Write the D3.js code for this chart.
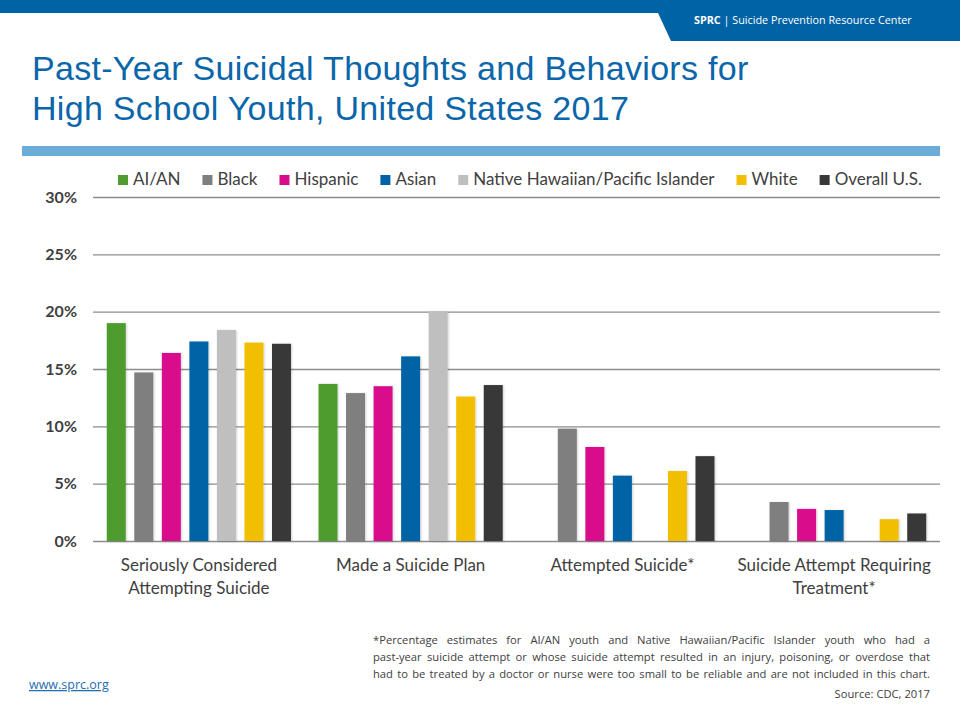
<!DOCTYPE html>
<html>
<head>
<meta charset="utf-8">
<script src="https://cdn.jsdelivr.net/npm/d3@7"></script>
<style>
  body { margin: 0; background: #fff; }
  svg { display: block; }
</style>
</head>
<body>
<svg id="chart" width="960" height="720"></svg>
<script>
// chart data
var categories = ["Seriously Considered Attempting Suicide", "Made a Suicide Plan", "Attempted Suicide*", "Suicide Attempt Requiring Treatment*"];
var categoryLines = [["Seriously Considered", "Attempting Suicide"], ["Made a Suicide Plan"], ["Attempted Suicide*"], ["Suicide Attempt Requiring", "Treatment*"]];
var seriesNames = ["AI/AN", "Black", "Hispanic", "Asian", "Native Hawaiian/Pacific Islander", "White", "Overall U.S."];
var aian = [19.0, 13.7, null, null];
var black = [14.7, 12.9, 9.8, 3.4];
var hispanic = [16.4, 13.5, 8.2, 2.8];
var asian = [17.4, 16.1, 5.7, 2.7];
var nhpi = [18.4, 20.0, null, null];
var white = [17.3, 12.6, 6.1, 1.9];
var overall = [17.2, 13.6, 7.4, 2.4];
var yTicks = [0, 5, 10, 15, 20, 25, 30];

var seriesValues = [aian, black, hispanic, asian, nhpi, white, overall];
var seriesColors = ["#4f9c2f", "#7f7f7f", "#d90c8c", "#0063a6", "#bfbfbf", "#f2be00", "#383838"];

var svg = d3.select("#chart");
var blue = "#0063a6",
    textGray = "#404040";

// header band with slanted tab on the right
svg.append("rect")
    .attr("x", 0).attr("y", 0)
    .attr("width", 960).attr("height", 13)
    .attr("fill", blue);
svg.append("path")
    .attr("d", "M652,0 L960,0 L960,41 L671,41 Z")
    .attr("fill", blue);
var header = svg.append("text")
    .attr("x", 694).attr("y", 24)
    .attr("fill", "#fff")
    .attr("font-family", "'Open Sans', sans-serif")
    .attr("font-size", "10.8px");
header.append("tspan").attr("font-weight", "bold").text("SPRC");
header.append("tspan").text("  |  Suicide Prevention Resource Center");

// title
var title = svg.append("text")
    .attr("font-family", "'Liberation Sans', Arial, sans-serif")
    .attr("font-size", "34px")
    .attr("letter-spacing", "0.3px")
    .attr("fill", "#0a66aa");
title.append("tspan").attr("x", 32).attr("y", 79.5).text("Past-Year Suicidal Thoughts and Behaviors for");
title.append("tspan").attr("x", 32).attr("y", 120).text("High School Youth, United States 2017");

svg.append("rect")
    .attr("x", 22).attr("y", 146)
    .attr("width", 918).attr("height", 10)
    .attr("fill", "#6babd7");

// plot area
var plotLeft = 93, plotRight = 940, plotTop = 197, plotBottom = 541;

var x0 = d3.scaleBand()
    .domain(categories)
    .range([plotLeft, plotRight])
    .paddingInner(0)
    .paddingOuter(0);

var x1 = d3.scaleBand()
    .domain(seriesNames)
    .range([0, x0.bandwidth()])
    .paddingInner(0.31)
    .paddingOuter(0.5);

var y = d3.scaleLinear()
    .domain([0, 30])
    .range([plotBottom, plotTop]);

// gridlines + y labels
var yAxis = svg.append("g")
    .attr("transform", "translate(" + plotLeft + ",0)")
    .call(d3.axisLeft(y)
        .tickValues(yTicks)
        .tickFormat(function (d) { return d + "%"; })
        .tickSize(-(plotRight - plotLeft))
        .tickPadding(16));
yAxis.select(".domain").remove();
yAxis.selectAll("line")
    .attr("stroke", "#8c8c8c")
    .attr("stroke-width", 1.3);
yAxis.selectAll("text")
    .attr("fill", textGray)
    .attr("font-family", "Lato, 'Open Sans', sans-serif")
    .attr("font-weight", "bold")
    .attr("font-size", "16px");

// soft shadow under the bars
var defs = svg.append("defs");
var shadow = defs.append("filter").attr("id", "barShadow")
    .attr("x", "-20%").attr("y", "-5%").attr("width", "150%").attr("height", "115%");
shadow.append("feDropShadow")
    .attr("dx", 1).attr("dy", 0.5)
    .attr("stdDeviation", 1)
    .attr("flood-color", "#000")
    .attr("flood-opacity", 0.18);

// bars, one group per category
var barData = categories.map(function (c, ci) {
    return {
        category: c,
        values: seriesNames.map(function (s, si) {
            return { series: s, value: seriesValues[si][ci], color: seriesColors[si] };
        }).filter(function (d) { return d.value !== null; })
    };
});

var groups = svg.append("g").attr("class", "bars")
    .selectAll("g")
    .data(barData)
    .enter().append("g")
    .attr("transform", function (d) { return "translate(" + x0(d.category) + ",0)"; });

groups.selectAll("rect")
    .data(function (d) { return d.values; })
    .enter().append("rect")
    .attr("x", function (d) { return x1(d.series); })
    .attr("y", function (d) { return y(d.value); })
    .attr("width", x1.bandwidth())
    .attr("height", function (d) { return y(0) - y(d.value); })
    .attr("fill", function (d) { return d.color; })
    .attr("filter", "url(#barShadow)");

// category labels
var xAxis = svg.append("g")
    .attr("transform", "translate(0," + plotBottom + ")")
    .call(d3.axisBottom(x0).tickSize(0).tickFormat(""));
xAxis.select(".domain").remove();
xAxis.selectAll(".tick").each(function (d) {
    var lines = categoryLines[categories.indexOf(d)];
    var t = d3.select(this).append("text")
        .attr("fill", textGray)
        .attr("text-anchor", "middle")
        .attr("font-family", "Lato, 'Open Sans', sans-serif")
        .attr("font-size", "17px");
    lines.forEach(function (line, i) {
        t.append("tspan").attr("x", 0).attr("y", 30 + i * 23).text(line);
    });
});

// legend, spread across the same span as the slide
var legend = svg.append("g").attr("class", "legend");
var legendItems = legend.selectAll("g")
    .data(seriesNames)
    .enter().append("g");
legendItems.append("rect")
    .attr("width", 10).attr("height", 10)
    .attr("y", -10)
    .attr("fill", function (d, i) { return seriesColors[i]; });
legendItems.append("text")
    .attr("x", 15)
    .attr("fill", textGray)
    .attr("font-family", "Lato, 'Open Sans', sans-serif")
    .attr("font-size", "17px")
    .text(function (d) { return d; });
var widths = [];
legendItems.each(function () { widths.push(15 + d3.select(this).select("text").node().getComputedTextLength()); });
var legendStart = 118, legendEnd = 922;
var legendGap = (legendEnd - legendStart - d3.sum(widths)) / (widths.length - 1);
var lx = legendStart;
legendItems.attr("transform", function (d, i) {
    var t = "translate(" + lx + ",185)";
    lx += widths[i] + legendGap;
    return t;
});

// footnote, justified like the slide
var noteLines = [
    "*Percentage estimates for AI/AN youth and Native Hawaiian/Pacific Islander youth who had a",
    "past-year suicide attempt or whose suicide attempt resulted in an injury, poisoning, or overdose that",
    "had to be treated by a doctor or nurse were too small to be reliable and are not included in this chart."
];
var noteLeft = 373, noteRight = 930;
var note = svg.append("g")
    .attr("font-family", "'Open Sans', sans-serif")
    .attr("font-size", "11.2px")
    .attr("fill", textGray);
noteLines.forEach(function (line, li) {
    var lineY = 644 + li * 17;
    var words = line.split(" ");
    var wordNodes = words.map(function (w) {
        return note.append("text").attr("y", lineY).text(w);
    });
    var wordWidths = wordNodes.map(function (n) { return n.node().getComputedTextLength(); });
    var space = (noteRight - noteLeft - d3.sum(wordWidths)) / (words.length - 1);
    var wx = noteLeft;
    wordNodes.forEach(function (n, i) {
        n.attr("x", wx);
        wx += wordWidths[i] + space;
    });
});

svg.append("text")
    .attr("x", noteRight).attr("y", 698)
    .attr("text-anchor", "end")
    .attr("font-family", "'Open Sans', sans-serif")
    .attr("font-size", "11.2px")
    .attr("fill", textGray)
    .text("Source: CDC, 2017");

svg.append("text")
    .attr("x", 29).attr("y", 689)
    .attr("font-family", "'Open Sans', sans-serif")
    .attr("font-size", "12.5px")
    .attr("fill", "#1f6cb0")
    .attr("text-decoration", "underline")
    .text("www.sprc.org");
</script>
</body>
</html>
